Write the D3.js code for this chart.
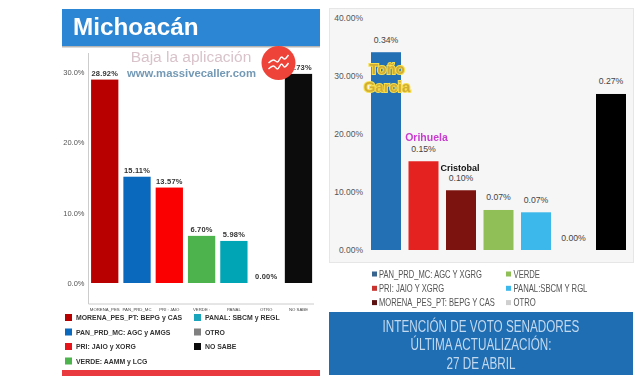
<!DOCTYPE html>
<html>
<head>
<meta charset="utf-8">
<script src="https://cdn.jsdelivr.net/npm/d3@7"></script>
<style>
  html, body { margin: 0; padding: 0; background: #fff; }
  svg { display: block; filter: blur(0.35px); }
  .domain { display: none; }
</style>
</head>
<body>
<svg width="640" height="377"></svg>
<script>
// Left chart
const leftCats = ["MORENA_PES", "PAN_PRD_MC", "PRI : JAIO", "VERDE :", "PANAL", "OTRO", "NO SABE"];
const leftValues = [28.92, 15.11, 13.57, 6.70, 5.98, 0, 29.73];
const leftColors = ["#b90000", "#0a68bd", "#fb0000", "#4db34d", "#00a5b5", "#808080", "#0c0c0c"];
const leftTicks = [0, 10, 20, 30];
const leftLegendCol1 = ["MORENA_PES_PT: BEPG y CAS", "PAN_PRD_MC: AGC y AMGS", "PRI: JAIO y XORG", "VERDE: AAMM y LCG"];
const leftLegendCol1Colors = ["#b90000", "#0a68bd", "#e8141c", "#4db34d"];
const leftLegendCol2 = ["PANAL: SBCM y REGL", "OTRO", "NO SABE"];
const leftLegendCol2Colors = ["#1aa5bd", "#808080", "#0c0c0c"];

// Right chart
const rightCats = ["PAN_PRD_MC", "PRI", "MORENA_PES_PT", "VERDE", "PANAL", "OTRO", "NO SABE"];
const rightValues = [34.1, 15.3, 10.3, 6.9, 6.5, 0, 26.9];
const rightLabels = ["0.34%", "0.15%", "0.10%", "0.07%", "0.07%", "0.00%", "0.27%"];
const rightColors = ["#2470b5", "#e42320", "#7c130f", "#8fbf56", "#3cb8ea", "#cccccc", "#000000"];
const rightTicks = [0, 10, 20, 30, 40];
const rightLegendCol1 = ["PAN_PRD_MC: AGC Y XGRG", "PRI: JAIO Y XGRG", "MORENA_PES_PT: BEPG Y CAS"];
const rightLegendCol1Colors = ["#37648f", "#c8322f", "#5b1210"];
const rightLegendCol2 = ["VERDE", "PANAL:SBCM Y RGL", "OTRO"];
const rightLegendCol2Colors = ["#8fbf56", "#3cb8ea", "#cfcfcf"];
const bannerLines = ["INTENCIÓN DE VOTO SENADORES", "ÚLTIMA ACTUALIZACIÓN:", "27 DE ABRIL"];

const svg = d3.select("svg");
const sans = "'Liberation Sans', Arial, sans-serif";

// text is squeezed sideways with scaleX, the originals are condensed faces
function legend(items, colors, x, y0, dy, box, gap, size, fill, weight, scaleX) {
  const g = svg.append("g");
  items.forEach((d, i) => {
    g.append("rect")
      .attr("x", x).attr("y", y0 + i * dy - box / 2)
      .attr("width", box).attr("height", box)
      .attr("fill", colors[i]);
    g.append("text")
      .attr("transform", `translate(${x + box + gap},${y0 + i * dy}) scale(${scaleX},1)`)
      .attr("dy", "0.35em")
      .attr("font-family", sans)
      .attr("font-size", size)
      .attr("font-weight", weight)
      .attr("fill", fill)
      .text(d);
  });
}

// ---- Left panel ----
svg.append("rect").attr("x", 62).attr("y", 46).attr("width", 258).attr("height", 1.5).attr("fill", "#b5b5b5");
svg.append("rect").attr("x", 62).attr("y", 9).attr("width", 258).attr("height", 37).attr("fill", "#2c86d3");
svg.append("text").attr("x", 73).attr("y", 34.5)
  .attr("font-family", sans).attr("font-size", 24.3).attr("font-weight", 700)
  .attr("fill", "#fff").text("Michoacán");
svg.append("rect").attr("x", 62).attr("y", 370).attr("width", 258).attr("height", 6).attr("fill", "#e83a3f");

const xL = d3.scaleBand().domain(leftCats).range([88.5, 314.7]).paddingInner(0.155).paddingOuter(0.08);
const yL = d3.scaleLinear().domain([0, 30]).range([283, 72]);

svg.selectAll(".barL").data(leftValues).enter().append("rect")
  .attr("x", (d, i) => xL(leftCats[i]))
  .attr("y", d => yL(d))
  .attr("width", xL.bandwidth())
  .attr("height", d => yL(0) - yL(d))
  .attr("fill", (d, i) => leftColors[i]);

svg.selectAll(".lblL").data(leftValues).enter().append("text")
  .attr("x", (d, i) => xL(leftCats[i]) + xL.bandwidth() / 2)
  .attr("y", d => yL(d) - 4)
  .attr("text-anchor", "middle")
  .attr("font-family", sans).attr("font-size", 7.5).attr("font-weight", 700)
  .attr("letter-spacing", 0.2)
  .attr("fill", "#333")
  .text(d => d.toFixed(2) + "%");

const axisL = svg.append("g").attr("transform", "translate(88.5,0)")
  .call(d3.axisLeft(yL).tickValues(leftTicks).tickSize(0).tickPadding(4).tickFormat(d => d.toFixed(1) + "%"));
axisL.selectAll("text").attr("font-family", sans).attr("font-size", 7.5).attr("fill", "#555");

svg.append("line").attr("x1", 88.5).attr("x2", 88.5).attr("y1", 53).attr("y2", 304).attr("stroke", "#ccc");
svg.append("line").attr("x1", 88.5).attr("x2", 314).attr("y1", 304).attr("y2", 304).attr("stroke", "#ccc");

const bottomL = svg.append("g").attr("transform", "translate(0,304)")
  .call(d3.axisBottom(xL).tickSize(0).tickPadding(4));
bottomL.selectAll("text").attr("font-family", sans).attr("font-size", 4.3).attr("fill", "#444");

legend(leftLegendCol1, leftLegendCol1Colors, 65, 317.5, 14.5, 7, 4, 7.6, "#333", 700, 0.91);
legend(leftLegendCol2, leftLegendCol2Colors, 194, 317.5, 14.5, 7, 4, 7.6, "#333", 700, 0.91);

// Watermark
svg.append("text").attr("x", 191).attr("y", 62)
  .attr("text-anchor", "middle")
  .attr("font-family", sans).attr("font-size", 15.5)
  .attr("fill", "#d9c3cb").text("Baja la aplicación");
svg.append("text").attr("x", 191.5).attr("y", 76.5)
  .attr("text-anchor", "middle")
  .attr("font-family", sans).attr("font-size", 11.3).attr("font-weight", 700)
  .attr("fill", "#7499b5").text("www.massivecaller.com");
svg.append("circle").attr("cx", 278.5).attr("cy", 63).attr("r", 17).attr("fill", "#ee4338");
const zig = d3.line().curve(d3.curveCatmullRom);
const icon = svg.append("g").attr("transform", "translate(278.5,63)")
  .attr("fill", "none").attr("stroke", "#fff").attr("stroke-width", 1.4);
icon.append("path").attr("d", zig([[-10, 0], [-5, -3], [-1, -1], [3, -6], [6, -4], [10, -8]]));
icon.append("path").attr("d", zig([[-10, 6], [-5, 3], [-1, 6], [3, 1], [6, 4], [10, 0]]));

// ---- Right panel ----
svg.append("rect").attr("x", 329.5).attr("y", 8.5).attr("width", 304).attr("height", 254)
  .attr("fill", "#f6f6f6").attr("stroke", "#e6e6e6");

const xR = d3.scaleBand().domain(rightCats).range([367.25, 629.75]).paddingInner(0.2).paddingOuter(0.1);
const yR = d3.scaleLinear().domain([0, 40]).range([250, 18]);

svg.selectAll(".barR").data(rightValues).enter().append("rect")
  .attr("x", (d, i) => xR(rightCats[i]))
  .attr("y", d => yR(d))
  .attr("width", xR.bandwidth())
  .attr("height", d => yR(0) - yR(d))
  .attr("fill", (d, i) => rightColors[i]);

svg.selectAll(".lblR").data(rightValues).enter().append("text")
  .attr("x", (d, i) => xR(rightCats[i]) + xR.bandwidth() / 2)
  .attr("y", d => yR(d) - 9.5)
  .attr("text-anchor", "middle")
  .attr("font-family", sans).attr("font-size", 8.7)
  .attr("fill", "#444")
  .text((d, i) => rightLabels[i]);

const axisR = svg.append("g").attr("transform", "translate(363,-0.7)")
  .call(d3.axisLeft(yR).tickValues(rightTicks).tickSize(0).tickPadding(0).tickFormat(d => d.toFixed(2) + "%"));
axisR.selectAll("text").attr("font-family", sans).attr("font-size", 8.5).attr("fill", "#555");

// Candidate names
const garcia = svg.append("g").attr("font-family", sans).attr("font-size", 15).attr("font-weight", 700)
  .attr("text-anchor", "middle").attr("fill", "#d2ad36").attr("stroke", "#f7e04b").attr("stroke-width", 2)
  .attr("paint-order", "stroke");
garcia.append("text").attr("x", 387).attr("y", 74).text("Toño");
garcia.append("text").attr("x", 387).attr("y", 92).text("Garcia");
svg.append("text").attr("x", 426.5).attr("y", 141).attr("text-anchor", "middle")
  .attr("font-family", sans).attr("font-size", 10.5).attr("font-weight", 700)
  .attr("fill", "#c83ccf").text("Orihuela");
svg.append("text").attr("x", 460).attr("y", 170.5).attr("text-anchor", "middle")
  .attr("font-family", sans).attr("font-size", 9).attr("font-weight", 700)
  .attr("fill", "#111").text("Cristobal");

legend(rightLegendCol1, rightLegendCol1Colors, 372, 274, 14.3, 5, 2, 10, "#555", 400, 0.76);
legend(rightLegendCol2, rightLegendCol2Colors, 506, 274, 14.3, 5, 2.5, 10, "#555", 400, 0.77);

svg.append("rect").attr("x", 329).attr("y", 312).attr("width", 304).attr("height", 63).attr("fill", "#1f6db3");
svg.selectAll(".banner").data(bannerLines).enter().append("text")
  .attr("transform", (d, i) => `translate(481,${331.5 + i * 18.8}) scale(0.71,1)`)
  .attr("text-anchor", "middle")
  .attr("font-family", sans).attr("font-size", 16.5)
  .attr("fill", "#c3d9ee")
  .text(d => d);
</script>
</body>
</html>
